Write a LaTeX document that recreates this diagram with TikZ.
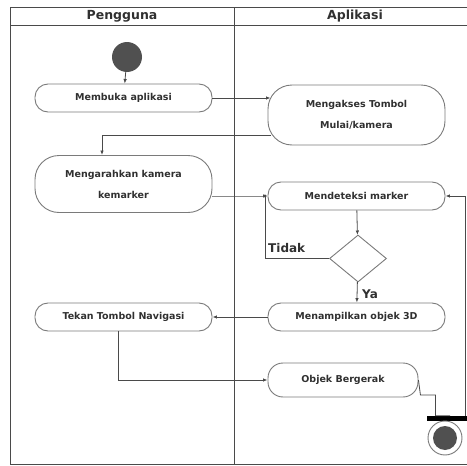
\documentclass[tikz,border=0pt]{standalone}
\usepackage{fontspec}
\setmainfont{DejaVu Sans}
\usetikzlibrary{arrows.meta,shapes.geometric}
\definecolor{lineC}{HTML}{4A4A4A}
\definecolor{boxC}{HTML}{7A7A7A}
\definecolor{dotC}{HTML}{505050}
\definecolor{txtC}{HTML}{303030}
\tikzset{
  act/.style={draw=boxC, line width=0.9pt, rectangle, minimum width=177pt, minimum height=28pt,
    rounded corners=13pt, align=center, text=txtC, font=\bfseries\fontsize{9.5}{21}\selectfont, inner sep=0pt},
  flow/.style={draw=lineC, line width=0.8pt},
  arr/.style={flow, -{Latex[length=4.5pt,width=3.5pt]}},
  hdr/.style={font=\bfseries\fontsize{12.5}{14}\selectfont, text=txtC},
  lbl/.style={font=\bfseries\fontsize{12}{14}\selectfont, text=txtC, inner sep=0pt},
}
\begin{document}
\begin{tikzpicture}[x=1pt,y=-1pt]
\useasboundingbox (0,0) rectangle (467,466);
% frame
\draw[draw=lineC, line width=0.9pt] (10,7) rectangle (474,464);
\draw[draw=lineC, line width=0.9pt] (10,25) -- (474,25);
\draw[draw=lineC, line width=0.9pt] (234,7) -- (234,464);
\node[hdr] (h1) at (122,16) {Pengguna};
\node[hdr] (h2) at (355,16) {Aplikasi};
% nodes
\node[circle, fill=dotC, minimum size=30pt, inner sep=0pt] (start) at (127,57) {};
\node[act] (n1) at (123.5,98) {Membuka aplikasi};
\node[act, minimum height=60pt, rounded corners=24pt] (n2) at (356.5,115) {Mengakses Tombol\\Mulai/kamera};
\node[act, minimum height=57pt, rounded corners=24pt] (n3) at (123.5,184) {Mengarahkan kamera\\kemarker};
\node[act] (n4) at (356.5,196) {Mendeteksi marker};
\node[diamond, draw=boxC, line width=0.9pt, minimum width=57pt, minimum height=47pt, inner sep=0pt] (d) at (358,258.5) {};
\node[act] (n5) at (356.5,317) {Menampilkan objek 3D};
\node[act] (n6) at (123.5,317) {Tekan Tombol Navigasi};
\node[act, minimum width=150pt, minimum height=34pt, rounded corners=15pt] (n7) at (343,380) {Objek Bergerak};
\node[rectangle, fill=black, minimum width=46pt, minimum height=5pt, inner sep=0pt] (bar) at (450,418.5) {};
\node[circle, draw=boxC, line width=0.9pt, fill=white, minimum size=34pt, inner sep=0pt] (endo) at (445,438) {};
\node[circle, fill=dotC, minimum size=24pt, inner sep=0pt] (endi) at (445,438) {};
% coordinates
\coordinate (jn) at (265,196);
\coordinate (rt) at (465,416);
\fill[lineC] (jn) circle (1.6pt);
% labels
\node[lbl, anchor=west] (tidak) at (268,248) {Tidak};
\node[lbl, anchor=west] (ya) at (362,294) {Ya};
% connectors
\draw[arr] (start) -- (n1);
\draw[arr] (n1.east) -- ([xshift=3pt]n2.west |- n1.east);
\draw[arr] ([xshift=3pt,yshift=-20pt]n2.west) -| ([xshift=-21.5pt]n3.north);
\draw[arr] (n3.east |- jn) -- (jn) -- (n4.west);
\draw[arr] (n4) -- (d);
\draw[flow] (d.west) -| (jn);
\draw[arr] (d) -- (n5);
\draw[arr] (n5) -- (n6);
\draw[arr] ([xshift=-5.5pt]n6.south) |- (n7.west);
\draw[flow] (n7.east) -- ++(2,15) -- ++(15,0) |- (bar.north);
\draw[arr] (rt) |- (n4.east);
\end{tikzpicture}
\end{document}
